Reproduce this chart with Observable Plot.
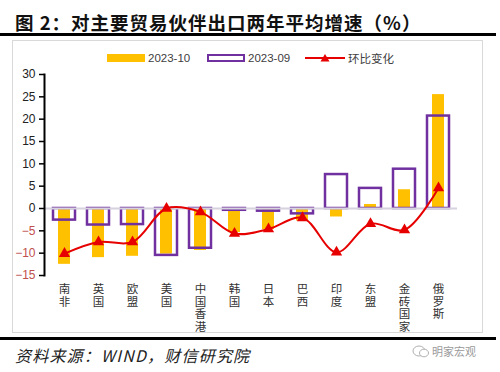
<!DOCTYPE html>
<html>
<head>
<meta charset="utf-8">
<script src="https://cdn.jsdelivr.net/npm/d3@7"></script>
<script src="https://cdn.jsdelivr.net/npm/@observablehq/plot@0.6"></script>
<style>
  html, body { margin:0; padding:0; background:#fff; }
  #page { position:relative; width:500px; height:372px; overflow:hidden; font-family:"Noto Sans CJK SC","Liberation Sans",sans-serif; }
  #title { position:absolute; left:15px; top:9px; font-size:18.5px; font-weight:700; color:#111; white-space:nowrap; letter-spacing:1px; }
  .hr { position:absolute; left:0; width:496px; height:2.5px; background:#000; }
  #box { position:absolute; left:12px; top:40px; width:471px; height:293px; border:1px solid #d9d9d9; box-sizing:border-box; }
  #legend { position:absolute; top:50px; left:0; width:500px; height:16px; font-family:"Liberation Sans","Noto Sans CJK SC",sans-serif; font-size:11.5px; color:#404040; }
  .li { position:absolute; top:0; display:flex; align-items:center; height:16px; }
  .li span { margin-left:3px; }
  #chart { position:absolute; left:0; top:66px; }
  #caption { position:absolute; left:15px; top:343px; font-size:16px; font-style:italic; color:#222; white-space:nowrap; letter-spacing:1.2px; }
  #wm { position:absolute; left:412px; top:343px; font-size:11px; color:#9a9a9a; display:flex; align-items:center; }
</style>
</head>
<body>
<div id="page">
  <div id="title">图 2：对主要贸易伙伴出口两年平均增速（%）</div>
  <div class="hr" style="top:33px"></div>
  <div id="box"></div>
  <div id="legend"></div>
  <div id="chart"></div>
  <div class="hr" style="top:337px"></div>
  <div id="caption">资料来源：WIND，财信研究院</div>
  <div id="wm"><svg width="18" height="14"><ellipse cx="7" cy="7" rx="6" ry="5" fill="none" stroke="#b0b0b0" stroke-width="1"/><ellipse cx="12" cy="9" rx="4.5" ry="3.8" fill="#fff" stroke="#b0b0b0" stroke-width="1"/></svg><span style="margin-left:2px">明家宏观</span></div>
</div>
<script>
const categories = ["南非","英国","欧盟","美国","中国香港","韩国","日本","巴西","印度","东盟","金砖国家","俄罗斯"];
const oct2023 = [-12.5, -11.0, -10.7, -10.2, -9.4, -5.4, -4.7, -2.8, -1.9, 0.9, 4.2, 25.5];
const sep2023 = [-2.6, -3.7, -3.6, -10.5, -8.9, -0.4, -0.6, -1.2, 7.6, 4.5, 8.8, 20.7];
const momChange = [-10.1, -7.5, -7.5, 0.0, -0.8, -5.6, -4.6, -2.1, -9.8, -3.4, -4.8, 4.6];
const posTicks = [0, 5, 10, 15, 20, 25, 30];
const negTicks = [-5, -10, -15];
const seriesNames = ["2023-10", "2023-09", "环比变化"];

const rows = categories.map((c, i) => ({c, oct: oct2023[i], sep: sep2023[i], chg: momChange[i]}));

const yellow = "#FFC000", purple = "#7030A0", red = "#E60000";

// legend
const legend = document.getElementById("legend");
const legItems = [
  {x:107, sw:`<svg width="38" height="8"><rect x="0" y="0" width="38" height="8" fill="${yellow}"/></svg>`},
  {x:207, sw:`<svg width="38" height="8"><rect x="1" y="1" width="36" height="6" fill="none" stroke="${purple}" stroke-width="2"/></svg>`},
  {x:305, sw:`<svg width="40" height="10"><line x1="0" y1="5" x2="40" y2="5" stroke="${red}" stroke-width="2"/><path d="M20,1 L24.5,8.5 L15.5,8.5 Z" fill="${red}"/></svg>`}
];
legItems.forEach((it, i) => {
  const d = document.createElement("div");
  d.className = "li";
  d.style.left = it.x + "px";
  d.innerHTML = it.sw + `<span style="font-family:${i===2?'Noto Sans CJK SC':'Liberation Sans'}">${seriesNames[i]}</span>`;
  legend.appendChild(d);
});

const chart = Plot.plot({
  width: 500,
  height: 276,
  marginTop: 8,
  marginBottom: 67,
  marginLeft: 44,
  marginRight: 43,
  style: {fontFamily: "Liberation Sans, Noto Sans CJK SC, sans-serif", fontSize: "12px", color: "#000", background: "transparent"},
  x: {domain: categories, padding: 0},
  y: {domain: [-15, 30]},
  marks: [
    Plot.barY(rows, {x: "c", y: "oct", fill: yellow, insetLeft: 11, insetRight: 11}),
    Plot.barY(rows, {x: "c", y: "sep", fill: "none", stroke: purple, strokeWidth: 2.5, insetLeft: 6, insetRight: 6}),
    Plot.ruleY([0], {stroke: "#d6d2de", strokeWidth: 2}),
    Plot.line(rows, {x: "c", y: "chg", stroke: red, strokeWidth: 2, curve: "catmull-rom"}),
    Plot.dot(rows, {x: "c", y: "chg", symbol: "triangle", fill: red, r: 4.2}),
    Plot.frame({anchor: "left", stroke: "#000", strokeWidth: 2}),
    Plot.axisY({ticks: posTicks, tickSize: 5, tickPadding: 4, label: null, fill: "#222", stroke: "#000", strokeWidth: 1.5, fontSize: 12}),
    Plot.axisY({ticks: negTicks, tickSize: 5, tickPadding: 4, label: null, fill: "#C0504D", stroke: "#000", strokeWidth: 1.5, fontSize: 12}),
    Plot.axisX({tickSize: 0, tickPadding: 8, label: null, fontFamily: "Noto Sans CJK SC", fontSize: 11.5, fill: "#333", lineHeight: 1.12, lineAnchor: "top",
      tickFormat: d => d.split("").join("\n")})
  ]
});
document.getElementById("chart").appendChild(chart);
</script>
</body>
</html>
